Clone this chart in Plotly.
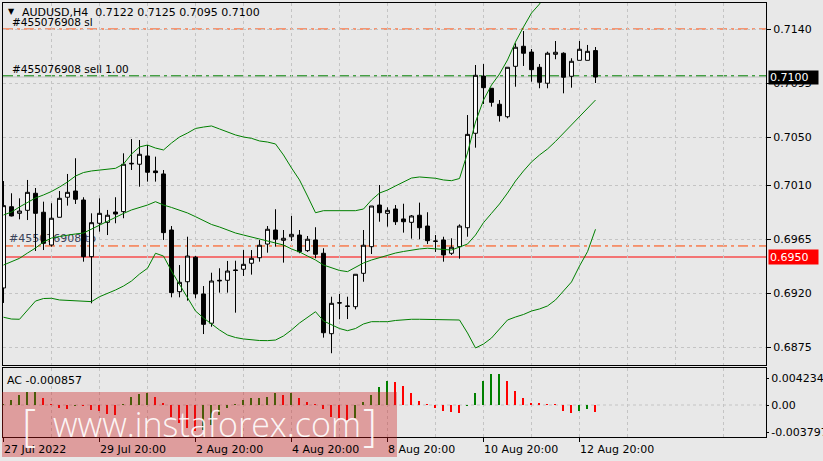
import plotly.graph_objects as go

# ---------------- data ----------------
bar_index = list(range(75))
opens = [0.69242, 0.69919, 0.69864, 0.69889, 0.70031, 0.69873, 0.69600, 0.69831, 0.69998, 0.70050,
         0.69975, 0.69503, 0.69781, 0.69789, 0.69875, 0.69878, 0.70281, 0.70273, 0.70342, 0.70217,
         0.70192, 0.69725, 0.69211, 0.69294, 0.69498, 0.69192, 0.68948, 0.69306, 0.69306, 0.69392,
         0.69398, 0.69448, 0.69494, 0.69608, 0.69725, 0.69639, 0.69669, 0.69683, 0.69553, 0.69642,
         0.69531, 0.68861, 0.69119, 0.69092, 0.69086, 0.69364, 0.69586, 0.69933, 0.69864, 0.69900,
         0.69817, 0.69789, 0.69848, 0.69758, 0.69633, 0.69642, 0.69531, 0.69586, 0.69744, 0.70531,
         0.71008, 0.70906, 0.70773, 0.70669, 0.71089, 0.71256, 0.71208, 0.71081, 0.70948, 0.71189,
         0.71198, 0.71006, 0.71139, 0.71139, 0.71220]
highs = [0.70133, 0.70031, 0.69989, 0.70142, 0.70075, 0.69961, 0.69948, 0.70050, 0.70192, 0.70323,
         0.69998, 0.69864, 0.69989, 0.69892, 0.69998, 0.70364, 0.70483, 0.70475, 0.70433, 0.70336,
         0.70225, 0.69758, 0.69433, 0.69669, 0.69508, 0.69258, 0.69369, 0.69406, 0.69467, 0.69469,
         0.69558, 0.69558, 0.69642, 0.69758, 0.69898, 0.69725, 0.69842, 0.69725, 0.69675, 0.69748,
         0.69573, 0.69169, 0.69192, 0.69169, 0.69356, 0.69725, 0.69925, 0.70100, 0.69914, 0.69933,
         0.69944, 0.69850, 0.69953, 0.69873, 0.69683, 0.69669, 0.69656, 0.69772, 0.70683, 0.71100,
         0.71108, 0.70906, 0.70808, 0.71081, 0.71281, 0.71383, 0.71233, 0.71108, 0.71211, 0.71300,
         0.71206, 0.71156, 0.71300, 0.71267, 0.71250]
lows = [0.69117, 0.69838, 0.69814, 0.69808, 0.69550, 0.69558, 0.69586, 0.69831, 0.69928, 0.69942,
        0.69461, 0.69114, 0.69711, 0.69683, 0.69781, 0.69823, 0.70225, 0.70086, 0.70128, 0.70128,
        0.69642, 0.69164, 0.69164, 0.69136, 0.69156, 0.68858, 0.68919, 0.69203, 0.69203, 0.69036,
        0.69342, 0.69353, 0.69461, 0.69536, 0.69586, 0.69453, 0.69633, 0.69531, 0.69542, 0.69489,
        0.68828, 0.68698, 0.68981, 0.68983, 0.69064, 0.69294, 0.69525, 0.69794, 0.69753, 0.69767,
        0.69703, 0.69653, 0.69648, 0.69608, 0.69542, 0.69461, 0.69517, 0.69486, 0.69669, 0.70411,
        0.70775, 0.70753, 0.70628, 0.70656, 0.70919, 0.71092, 0.70961, 0.70906, 0.70906, 0.71148,
        0.70864, 0.70911, 0.71139, 0.71139, 0.70950]
closes = [0.69928, 0.69842, 0.69883, 0.70039, 0.69864, 0.69614, 0.69823, 0.69989, 0.70039, 0.69981,
          0.69503, 0.69786, 0.69864, 0.69848, 0.69858, 0.70273, 0.70277, 0.70356, 0.70206, 0.70203,
          0.69703, 0.69203, 0.69289, 0.69508, 0.69192, 0.68939, 0.69300, 0.69302, 0.69383, 0.69388,
          0.69439, 0.69489, 0.69598, 0.69731, 0.69648, 0.69656, 0.69689, 0.69544, 0.69648, 0.69523,
          0.68869, 0.69114, 0.69117, 0.69089, 0.69356, 0.69598, 0.69925, 0.69869, 0.69889, 0.69794,
          0.69794, 0.69842, 0.69744, 0.69636, 0.69631, 0.69517, 0.69581, 0.69758, 0.70522, 0.71014,
          0.70911, 0.70789, 0.70678, 0.71081, 0.71248, 0.71198, 0.71061, 0.70956, 0.71198, 0.71206,
          0.70998, 0.71131, 0.71231, 0.71214, 0.71000]

bb_upper = [0.69850, 0.69875, 0.69917, 0.69958, 0.69992, 0.70017, 0.70046, 0.70083, 0.70125, 0.70175,
            0.70204, 0.70217, 0.70225, 0.70233, 0.70239, 0.70275, 0.70358, 0.70417, 0.70433, 0.70408,
            0.70392, 0.70450, 0.70500, 0.70533, 0.70571, 0.70583, 0.70592, 0.70567, 0.70542, 0.70517,
            0.70500, 0.70489, 0.70467, 0.70458, 0.70442, 0.70350, 0.70242, 0.70142, 0.70008, 0.69869,
            0.69886, 0.69886, 0.69886, 0.69886, 0.69886, 0.69900, 0.69975, 0.70033, 0.70058, 0.70092,
            0.70125, 0.70158, 0.70167, 0.70163, 0.70156, 0.70142, 0.70136, 0.70154, 0.70367, 0.70625,
            0.70808, 0.70933, 0.71025, 0.71142, 0.71292, 0.71417, 0.71533, 0.71608, 0.71717, 0.71825,
            0.71925, 0.71917, 0.71883, 0.71883, 0.71883]
bb_middle = [0.69433, 0.69458, 0.69489, 0.69533, 0.69575, 0.69625, 0.69658, 0.69671, 0.69683, 0.69692,
             0.69700, 0.69733, 0.69767, 0.69800, 0.69833, 0.69863, 0.69892, 0.69913, 0.69933, 0.69961,
             0.69933, 0.69913, 0.69892, 0.69867, 0.69836, 0.69800, 0.69771, 0.69750, 0.69725, 0.69700,
             0.69683, 0.69667, 0.69654, 0.69638, 0.69621, 0.69600, 0.69567, 0.69542, 0.69508, 0.69475,
             0.69433, 0.69408, 0.69388, 0.69378, 0.69417, 0.69450, 0.69475, 0.69496, 0.69517, 0.69533,
             0.69546, 0.69558, 0.69567, 0.69573, 0.69567, 0.69563, 0.69558, 0.69583, 0.69608, 0.69683,
             0.69786, 0.69864, 0.69942, 0.70033, 0.70133, 0.70217, 0.70292, 0.70350, 0.70400, 0.70463,
             0.70533, 0.70600, 0.70667, 0.70742, 0.70808]
bb_lower = [0.68998, 0.68983, 0.68981, 0.69058, 0.69133, 0.69154, 0.69156, 0.69142, 0.69138, 0.69133,
            0.69129, 0.69128, 0.69169, 0.69196, 0.69225, 0.69258, 0.69300, 0.69358, 0.69406, 0.69531,
            0.69508, 0.69383, 0.69275, 0.69167, 0.69050, 0.68992, 0.68942, 0.68892, 0.68850, 0.68829,
            0.68817, 0.68808, 0.68804, 0.68803, 0.68808, 0.68842, 0.68892, 0.68950, 0.68996, 0.69044,
            0.68967, 0.68933, 0.68904, 0.68886, 0.68904, 0.68942, 0.68961, 0.68961, 0.68961, 0.68971,
            0.68979, 0.68981, 0.68981, 0.68981, 0.68981, 0.68979, 0.68975, 0.68975, 0.68867, 0.68742,
            0.68775, 0.68825, 0.68900, 0.68975, 0.69000, 0.69021, 0.69050, 0.69067, 0.69092, 0.69142,
            0.69217, 0.69292, 0.69425, 0.69544, 0.69731]

ac_values = [0.00010, 0.00060, 0.00120, 0.00152, 0.00160, 0.00080, 0.00010, -0.00032, -0.00048, -0.00010,
             -0.00012, -0.00060, -0.00072, -0.00108, -0.00120, 0.00005, 0.00100, 0.00128, 0.00148, 0.00092,
             0.00020, -0.00140, -0.00220, -0.00280, -0.00310, -0.00300, -0.00240, -0.00120, -0.00040, 0.00005,
             0.00060, 0.00080, 0.00090, 0.00100, 0.00140, 0.00120, 0.00140, 0.00080, 0.00040, 0.00005,
             -0.00052, -0.00140, -0.00160, -0.00180, -0.00150, 0.00040, 0.00120, 0.00220, 0.00290, 0.00280,
             0.00228, 0.00140, 0.00052, 0.00008, -0.00032, -0.00068, -0.00088, -0.00090, -0.00010, 0.00148,
             0.00290, 0.00370, 0.00372, 0.00290, 0.00170, 0.00090, 0.00030, 0.00016, 0.00010, 0.00002,
             -0.00070, -0.00090, -0.00070, -0.00044, -0.000857]

price_ticks = [0.7140, 0.7095, 0.7050, 0.7010, 0.6965, 0.6920, 0.6875]
price_tick_text = ["0.7140", "0.7095", "0.7050", "0.7010", "0.6965", "0.6920", "0.6875"]
ac_ticks = [0.00324, 0.0, -0.00324]
ac_tick_text = ["0.004234", "0.00", "-0.003797"]
time_tick_bars = [0, 12, 24, 36, 48, 60, 72]
time_tick_labels = ["27 Jul 2022", "29 Jul 20:00", "2 Aug 20:00", "4 Aug 20:00",
                    "8 Aug 20:00", "10 Aug 20:00", "12 Aug 20:00"]

sl_level = 0.7140
sell_level = 0.7101
bid_level = 0.7100
tp_level = 0.69592
red_level = 0.6950
header_text = "AUDUSD,H4\u00a0\u00a00.7122 0.7125 0.7095 0.7100"
ac_label = "AC -0.000857"

# ---------------- layout helpers ----------------
W, H = 823, 461
ML, MR, MT, MB = 3, 57, 3, 24
PW, PH = W - ML - MR, H - MT - MB


def px(x):
    return (x - ML) / PW


def py(y):
    return (H - MB - y) / PH


FONT = "DejaVu Sans"
FS = 11
BG = "#E8E8E8"
GRID = "#C4C4C4"
X_RANGE = [-0.0625, 95.3125]
Y_RANGE = [0.686, 0.716167]
AC_RANGE = [-0.00384, 0.00444]

fig = go.Figure()

# tp label (under candles)
fig.add_trace(go.Scatter(x=[0.7], y=[0.6965], mode="text", text=["#455076908 tp"],
                         textposition="middle right",
                         textfont=dict(family=FONT, size=FS, color="#3a4258"),
                         xaxis="x", yaxis="y", showlegend=False, hoverinfo="skip"))

# candles (overlay axis so they sit above the tp text)
fig.add_trace(go.Candlestick(x=bar_index, open=opens, high=highs, low=lows, close=closes,
                             increasing=dict(line=dict(color="black", width=1), fillcolor="white"),
                             decreasing=dict(line=dict(color="black", width=1), fillcolor="black"),
                             xaxis="x", yaxis="y3", showlegend=False, hoverinfo="skip"))

for band in (bb_upper, bb_middle, bb_lower):
    fig.add_trace(go.Scatter(x=bar_index, y=band, mode="lines",
                             line=dict(color="#008000", width=1),
                             xaxis="x", yaxis="y3", showlegend=False, hoverinfo="skip"))

# AC histogram
ac_colors = []
prev = None
for v in ac_values:
    ac_colors.append("#008000" if (prev is None or v > prev) else "#FF0000")
    prev = v
fig.add_trace(go.Bar(x=bar_index, y=ac_values, width=0.14, marker=dict(color=ac_colors, line=dict(width=0)),
                     xaxis="x2", yaxis="y2", showlegend=False, hoverinfo="skip"))

# ---------------- shapes ----------------
DASHDOT = "10px,4px,3px,4px"
shapes = [
    dict(type="line", xref="paper", yref="y", x0=0, x1=1, y0=bid_level, y1=bid_level,
         line=dict(color="#C0C0C0", width=1), layer="between"),
    dict(type="line", xref="paper", yref="y", x0=0, x1=1, y0=sl_level, y1=sl_level,
         line=dict(color="#FF4500", width=1, dash=DASHDOT), layer="between"),
    dict(type="line", xref="paper", yref="y", x0=0, x1=1, y0=sell_level, y1=sell_level,
         line=dict(color="#008000", width=1, dash=DASHDOT), layer="between"),
    dict(type="line", xref="paper", yref="y", x0=0, x1=1, y0=tp_level, y1=tp_level,
         line=dict(color="#FF4500", width=1, dash=DASHDOT), layer="between"),
    dict(type="line", xref="paper", yref="y", x0=0, x1=1, y0=red_level, y1=red_level,
         line=dict(color="#FF0000", width=1), layer="between"),
    dict(type="line", xref="paper", yref="y2", x0=0, x1=1, y0=0, y1=0,
         line=dict(color=GRID, width=1, dash="3px,3px"), layer="between"),
    # watermark band
    dict(type="rect", xref="paper", yref="paper", x0=px(2), x1=px(397), y0=py(457), y1=py(392),
         fillcolor="rgba(205,25,25,0.36)", line=dict(width=0), layer="above"),
]

# ---------------- annotations ----------------
ann = []
ann.append(dict(x=px(11.5), y=py(12), xref="paper", yref="paper", text="\u25bc", showarrow=False,
                font=dict(family=FONT, size=8, color="black"), xanchor="center", yanchor="middle"))
ann.append(dict(x=px(20), y=py(12.5), xref="paper", yref="paper", text=header_text, showarrow=False,
                font=dict(family=FONT, size=FS, color="black"), xanchor="left", yanchor="middle"))
ann.append(dict(x=px(10), y=py(22), xref="paper", yref="paper", text="#455076908 sl", showarrow=False,
                font=dict(family=FONT, size=10.5, color="black"), xanchor="left", yanchor="middle"))
ann.append(dict(x=px(10), y=py(69), xref="paper", yref="paper", text="#455076908 sell 1.00", showarrow=False,
                font=dict(family=FONT, size=10.5, color="black"), xanchor="left", yanchor="middle"))
ann.append(dict(x=px(5), y=py(380), xref="paper", yref="paper", text=ac_label, showarrow=False,
                font=dict(family=FONT, size=FS, color="black"), xanchor="left", yanchor="middle"))
for b, lab in zip(time_tick_bars, time_tick_labels):
    ann.append(dict(x=b, y=py(449), xref="x2", yref="paper", text=lab, showarrow=False, xshift=-2,
                    font=dict(family=FONT, size=FS, color="black"), xanchor="left", yanchor="middle"))
# price labels on the right
ann.append(dict(x=1, y=bid_level, xref="paper", yref="y", text="0.7100", showarrow=False, xshift=2,
                font=dict(family=FONT, size=FS, color="white"), bgcolor="black", borderpad=1,
                width=47, height=11, xanchor="left", yanchor="middle", align="left"))
ann.append(dict(x=1, y=red_level, xref="paper", yref="y", text="0.6950", showarrow=False, xshift=2,
                font=dict(family=FONT, size=FS, color="white"), bgcolor="#FF0000", borderpad=1,
                width=47, height=12, xanchor="left", yanchor="middle", align="left"))
# watermark text
WM = dict(family="Open Sans", size=34, color="rgba(255,255,255,0.92)", weight=300)
ann.append(dict(x=px(29), y=py(424), xref="paper", yref="paper", text="[", showarrow=False,
                font=dict(WM, size=44), xanchor="center", yanchor="middle"))
ann.append(dict(x=px(207), y=py(424), xref="paper", yref="paper", text="www.instaforex.com", showarrow=False,
                font=WM, xanchor="center", yanchor="middle"))
ann.append(dict(x=px(370), y=py(424), xref="paper", yref="paper", text="]", showarrow=False,
                font=dict(WM, size=44), xanchor="center", yanchor="middle"))

grid_bars = list(range(0, 96, 6))
minor_bars = [b for b in grid_bars if b % 12 != 0]

axis_common = dict(showline=True, mirror=True, linecolor="black", linewidth=1, zeroline=False)

fig.update_layout(
    width=W, height=H,
    margin=dict(l=ML, r=MR, t=MT, b=MB, autoexpand=False),
    paper_bgcolor=BG, plot_bgcolor=BG,
    showlegend=False,
    font=dict(family=FONT, size=FS, color="black"),
    shapes=shapes, annotations=ann,
    xaxis=dict(axis_common, domain=[0, 1], anchor="y", range=X_RANGE, tickmode="array",
               tickvals=grid_bars, showticklabels=False, ticks="", showgrid=True,
               gridcolor=GRID, griddash="3px,3px", gridwidth=1,
               rangeslider=dict(visible=False), fixedrange=True),
    yaxis=dict(axis_common, domain=[py(365), 1], anchor="x", side="right", range=Y_RANGE,
               tickmode="array", tickvals=price_ticks, ticktext=price_tick_text,
               ticks="outside", ticklen=4, tickcolor="black", showgrid=True,
               gridcolor=GRID, griddash="3px,3px", tickfont=dict(family=FONT, size=FS)),
    yaxis3=dict(overlaying="y", side="right", range=Y_RANGE, visible=False, showgrid=False),
    xaxis2=dict(axis_common, domain=[0, 1], anchor="y2", range=X_RANGE, tickmode="array",
                tickvals=time_tick_bars, ticktext=[""] * len(time_tick_bars), ticks="outside",
                ticklen=4, tickcolor="black", showgrid=True, gridcolor=GRID, griddash="3px,3px",
                minor=dict(tickmode="array", tickvals=minor_bars, showgrid=True, gridcolor=GRID,
                           griddash="3px,3px", ticks="")),
    yaxis2=dict(axis_common, domain=[0, py(368)], anchor="x2", side="right", range=AC_RANGE,
                tickmode="array", tickvals=ac_ticks, ticktext=ac_tick_text, ticks="outside",
                ticklen=2, tickcolor="black", showgrid=False, tickfont=dict(family=FONT, size=FS)),
    bargap=0,
)

fig.write_html("out.html", config={"displayModeBar": False},
               post_script="document.body.style.margin='0px';document.body.style.background='#E8E8E8';")
